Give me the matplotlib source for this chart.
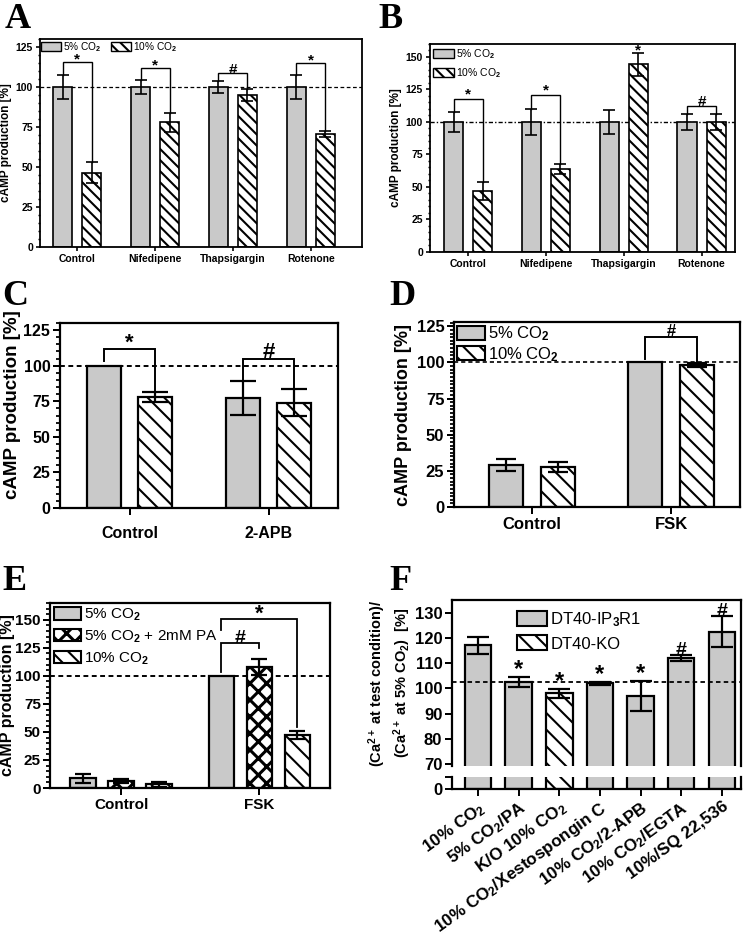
import matplotlib
matplotlib.use('Agg')
import matplotlib.pyplot as plt
from matplotlib.patches import Patch
from matplotlib.ticker import MultipleLocator, FixedLocator
import numpy as np

# ---------------- data ----------------
A_categories = ['Control', 'Nifedipene', 'Thapsigargin', 'Rotenone']
A_co2_5 = [100, 100, 100, 100]
A_co2_5_err = [7.3, 4.1, 4.0, 7.3]
A_co2_10 = [46.3, 77.9, 94.8, 70.4]
A_co2_10_err = [6.6, 5.8, 3.7, 1.8]
A_sig = ['*', '*', '#', '*']
A_bracket_y = [115.6, 111.9, 109.0, 115.2]

B_categories = ['Control', 'Nifedipene', 'Thapsigargin', 'Rotenone']
B_co2_5 = [100, 100, 100, 100]
B_co2_5_err = [7.7, 10.3, 9.2, 5.8]
B_co2_10 = [46.8, 64.1, 144.3, 100]
B_co2_10_err = [7.1, 3.8, 8.7, 6.5]
B_sig = ['*', '*', '*', '#']
B_bracket_y = [117.8, 120.9, None, 112.4]

C_categories = ['Control', '2-APB']
C_co2_5 = [100, 77.4]
C_co2_5_err = [0, 11.9]
C_co2_10 = [78.1, 73.9]
C_co2_10_err = [3.5, 9.4]
C_sig = ['*', '#']
C_bracket_y = [111.6, 105.0]

D_categories = ['Control', 'FSK']
D_co2_5 = [29.2, 100]
D_co2_5_err = [4.3, 0]
D_co2_10 = [27.4, 98.1]
D_co2_10_err = [3.4, 1.3]
D_sig = ['', '#']
D_bracket_y = [None, 117.9]

E_categories = ['Control', 'FSK']
E_co2_5 = [8.9, 100]
E_co2_5_err = [4.0, 0]
E_co2_5_pa = [6.3, 108.0]
E_co2_5_pa_err = [1.5, 7.3]
E_co2_10 = [3.3, 47.4]
E_co2_10_err = [2.2, 3.8]

F_labels = ['10% CO$_\\mathbf{2}$', '5% CO$_\\mathbf{2}$/PA', 'K/O 10% CO$_\\mathbf{2}$',
            '10% CO$_\\mathbf{2}$/Xestospongin C', '10% CO$_\\mathbf{2}$/2-APB',
            '10% CO$_\\mathbf{2}$/EGTA', '10%/SQ 22,536']
F_values = [117.0, 102.5, 98.0, 102.0, 97.0, 112.0, 122.5]
F_err = [3.3, 2.1, 1.9, 0.7, 6.1, 1.2, 6.1]
F_sig = ['', '*', '*', '*', '*', '#', '#']
F_knockout = [False, False, True, False, False, False, False]

# ---------------- style ----------------
plt.rcParams['font.family'] = ['Liberation Sans', 'DejaVu Sans']
plt.rcParams['font.weight'] = 'bold'
plt.rcParams['mathtext.fontset'] = 'custom'
plt.rcParams['mathtext.rm'] = 'Liberation Sans'
plt.rcParams['mathtext.bf'] = 'Liberation Sans:bold'
plt.rcParams['mathtext.it'] = 'Liberation Sans:italic'
plt.rcParams['hatch.linewidth'] = 1.5
GRAY = '#c9c9c9'

W, H = 745, 939
fig = plt.figure(figsize=(W / 100, H / 100), dpi=100)


def add_ax(l, t, r, b):
    return fig.add_axes([l / W, 1 - b / H, (r - l) / W, (b - t) / H])


def set_hlw(patches, lw):
    for p in patches:
        try:
            p.set_hatch_linewidth(lw)
        except AttributeError:
            pass


def style_ax(ax, lw, ticksize, major, minor, tl=4):
    for s in ax.spines.values():
        s.set_linewidth(lw)
    ax.yaxis.set_major_locator(MultipleLocator(major))
    if minor:
        ax.yaxis.set_minor_locator(MultipleLocator(minor))
    ax.tick_params(axis='both', which='major', direction='out', length=tl, width=lw * 0.9,
                   labelsize=ticksize, pad=2)
    ax.tick_params(axis='y', which='minor', direction='out', length=tl * 0.6, width=lw * 0.8)
    ax.tick_params(axis='x', which='minor', bottom=False)


def draw_bars(ax, x, vals, errs, kind, width, lw, capsize, elw, hatch='\\\\', hlw=None):
    if kind == 'gray':
        cont = ax.bar(x, vals, width, color=GRAY, edgecolor='black', linewidth=lw, zorder=2)
    else:
        cont = ax.bar(x, vals, width, color='white', edgecolor='black', hatch=hatch,
                      linewidth=lw, zorder=2)
        if hlw:
            set_hlw(cont.patches, hlw)
    xs = [xi for xi, e in zip(x, errs) if e > 0]
    vs = [v for v, e in zip(vals, errs) if e > 0]
    es = [e for e in errs if e > 0]
    if xs:
        ax.errorbar(xs, vs, yerr=es, fmt='none', ecolor='black', elinewidth=elw,
                    capsize=capsize, capthick=elw, zorder=3)


def bracket(ax, x1, x2, y, y1, y2, sym, fs, lw, dy=0):
    ax.plot([x1, x1, x2, x2], [y1, y, y, y2], color='black', lw=lw, zorder=4,
            solid_joinstyle='miter')
    ax.annotate(sym, xy=((x1 + x2) / 2, y), xytext=(0, dy), textcoords='offset points',
                ha='center', va='bottom', fontsize=fs, fontweight='bold')


def legend(ax, handles, labels, fs, **kw):
    return ax.legend(handles, labels, loc='upper left', frameon=False,
                     prop={'size': fs, 'weight': 'normal'}, **kw)


def panel_letter(x, y, s):
    fig.text(x / W, 1 - y / H, s, fontsize=26, fontweight='bold',
             family='Liberation Serif', va='baseline', ha='left')


# ---------------- Panel A ----------------
axA = add_ax(40, 39, 362, 247)
x = np.arange(len(A_categories))
off, w = 0.187, 0.245
draw_bars(axA, x - off, A_co2_5, A_co2_5_err, 'gray', w, 1.2, 4.5, 1.2)
draw_bars(axA, x + off, A_co2_10, A_co2_10_err, 'hatch', w, 1.2, 4.5, 1.2, hatch='\\\\\\')
axA.axhline(100, color='black', ls=(0, (3, 2)), lw=0.9, zorder=1)
axA.set_xlim(-0.48, 3.66)
axA.set_ylim(0, 130)
axA.set_xticks(x)
axA.set_xticklabels(A_categories, fontsize=9)
style_ax(axA, 1.3, 7.5, 25, 5, tl=3)
axA.set_ylabel('cAMP production [%]', fontsize=8.5, fontweight='bold', labelpad=3)
for i in range(len(A_categories)):
    bracket(axA, x[i] - off, x[i] + off, A_bracket_y[i],
            A_co2_5[i] + A_co2_5_err[i], A_co2_10[i] + A_co2_10_err[i], A_sig[i], 11, 1.0, -3.5)
legend(axA, [Patch(facecolor=GRAY, edgecolor='black', lw=1),
             Patch(facecolor='white', edgecolor='black', hatch='\\\\\\', lw=1)],
       ['5% CO$_2$', '10% CO$_2$'], 7.3, ncol=2, handlelength=2.0, handleheight=0.9,
       columnspacing=0.9, handletextpad=0.2, borderaxespad=0.05, borderpad=0.05)
panel_letter(5, 28, 'A')

# ---------------- Panel B ----------------
axB = add_ax(430, 44, 735, 252)
x = np.arange(len(B_categories))
draw_bars(axB, x - off, B_co2_5, B_co2_5_err, 'gray', w, 1.2, 4.5, 1.2)
draw_bars(axB, x + off, B_co2_10, B_co2_10_err, 'hatch', w, 1.2, 4.5, 1.2, hatch='\\\\\\')
axB.axhline(100, color='black', ls=(0, (3, 1.5, 1, 1.5)), lw=1.0, zorder=1)
axB.set_xlim(-0.49, 3.43)
axB.set_ylim(0, 160)
axB.set_xticks(x)
axB.set_xticklabels(B_categories, fontsize=9)
style_ax(axB, 1.3, 7.5, 25, 5, tl=3)
axB.set_ylabel('cAMP production [%]', fontsize=8.5, fontweight='bold', labelpad=3)
for i in range(len(B_categories)):
    if B_bracket_y[i] is None:
        axB.annotate(B_sig[i], xy=(x[i] + off, B_co2_10[i] + B_co2_10_err[i]),
                     xytext=(0, -3), textcoords='offset points', ha='center', va='bottom',
                     fontsize=11, fontweight='bold')
    else:
        bracket(axB, x[i] - off, x[i] + off, B_bracket_y[i],
                B_co2_5[i] + B_co2_5_err[i], B_co2_10[i] + B_co2_10_err[i], B_sig[i], 11, 1.0, -2)
legend(axB, [Patch(facecolor=GRAY, edgecolor='black', lw=1),
             Patch(facecolor='white', edgecolor='black', hatch='\\\\\\', lw=1)],
       ['5% CO$_2$', '10% CO$_2$'], 7.5, handlelength=2.0, handleheight=0.9,
       handletextpad=0.2, borderaxespad=0.2, borderpad=0.1, labelspacing=0.5)
panel_letter(378, 28, 'B')

# ---------------- Panel C ----------------
axC = add_ax(60, 323, 338, 508)
x = np.arange(len(C_categories))
offC, wC = 0.186, 0.245
draw_bars(axC, x - offC, C_co2_5, C_co2_5_err, 'gray', wC, 1.6, 9.5, 1.6)
draw_bars(axC, x + offC, C_co2_10, C_co2_10_err, 'hatch', wC, 1.6, 9.5, 1.6)
axC.axhline(100, color='black', ls=(0, (2.5, 1.8)), lw=1.4, zorder=1)
axC.set_xlim(-0.5, 1.5)
axC.set_ylim(0, 130)
axC.set_xticks(x)
axC.set_xticklabels(C_categories, fontsize=11)
style_ax(axC, 1.6, 11.5, 25, 5, tl=5)
axC.tick_params(axis='x', pad=8)
axC.set_ylabel('cAMP production [%]', fontsize=13.5, fontweight='bold', labelpad=2, y=0.56)
lefts_C = [103, C_co2_5[1] + C_co2_5_err[1]]
for i in range(len(C_categories)):
    bracket(axC, x[i] - offC, x[i] + offC, C_bracket_y[i], lefts_C[i],
            C_co2_10[i] + C_co2_10_err[i], C_sig[i], 16, 1.4, -3)
panel_letter(2, 305, 'C')

# ---------------- Panel D ----------------
axD = add_ax(454, 322, 740, 507)
x = np.arange(len(D_categories))
draw_bars(axD, x - offC, D_co2_5, D_co2_5_err, 'gray', wC, 1.6, 7, 1.6)
draw_bars(axD, x + offC, D_co2_10, D_co2_10_err, 'hatch', wC, 1.6, 7, 1.6)
axD.axhline(100, color='black', ls=(0, (2.5, 1.8)), lw=1.2, zorder=1)
axD.set_xlim(-0.562, 1.495)
axD.set_ylim(0, 128)
axD.set_xticks(x)
axD.set_xticklabels(D_categories, fontsize=11)
style_ax(axD, 1.6, 12, 25, 2.5, tl=5)
axD.set_ylabel('cAMP production [%]', fontsize=13, fontweight='bold', labelpad=3)
bracket(axD, 1 - offC, 1 + offC, D_bracket_y[1], 102.4,
        D_co2_10[1] + D_co2_10_err[1], D_sig[1], 12, 1.4, -2)
legend(axD, [Patch(facecolor=GRAY, edgecolor='black', lw=1.5),
             Patch(facecolor='white', edgecolor='black', hatch='\\\\', lw=1.5)],
       ['5% CO$_2$', '10% CO$_2$'], 12, handlelength=1.7, handleheight=0.9,
       handletextpad=0.2, borderaxespad=0.05, borderpad=0.1, labelspacing=0.1)
panel_letter(389, 305, 'D')

# ---------------- Panel E ----------------
axE = add_ax(50, 603, 330, 788)
x = np.arange(len(E_categories))
offE, wE = 0.275, 0.186
draw_bars(axE, x - offE, E_co2_5, E_co2_5_err, 'gray', wE, 1.6, 5.5, 1.6)
draw_bars(axE, x, E_co2_5_pa, E_co2_5_pa_err, 'cross', wE, 1.6, 5.5, 1.6, hatch='xx', hlw=2.2)
draw_bars(axE, x + offE, E_co2_10, E_co2_10_err, 'hatch', wE, 1.6, 5.5, 1.6)
axE.axhline(100, color='black', ls=(0, (2.5, 1.8)), lw=1.4, zorder=1)
axE.set_xlim(-0.514, 1.51)
axE.set_ylim(0, 165)
axE.set_xticks(x)
axE.set_xticklabels(E_categories, fontsize=11)
style_ax(axE, 1.6, 11, 25, 5, tl=5)
axE.tick_params(axis='y', pad=1.5)
axE.set_ylabel('cAMP production [%]', fontsize=11.5, fontweight='bold', labelpad=0.5)
bracket(axE, 1 - offE, 1, 129.1, 103.8, 124.7, '#', 14, 1.3, -3)
bracket(axE, 1 - offE, 1 + offE, 150.6, 141.0, 54.6, '*', 16, 1.3, -4)
hE = [Patch(facecolor=GRAY, edgecolor='black', lw=1.5),
      Patch(facecolor='white', edgecolor='black', hatch='xx', lw=1.5),
      Patch(facecolor='white', edgecolor='black', hatch='\\\\', lw=1.5)]
set_hlw(hE[1:2], 2.2)
legE = legend(axE, hE, ['5% CO$_2$', '5% CO$_2$ + 2mM PA', '10% CO$_2$'], 11,
              handlelength=1.8, handleheight=0.85, handletextpad=0.2, borderaxespad=0.15,
              borderpad=0.1, labelspacing=0.35)
set_hlw(legE.get_patches()[1:2], 2.2)
panel_letter(2, 590, 'E')

# ---------------- Panel F (broken axis) ----------------
axF = add_ax(452, 600, 741, 766)
axF2 = add_ax(452, 777, 741, 789)
x = np.arange(len(F_labels))
wF = 0.65
for ax in (axF, axF2):
    for i in range(len(F_labels)):
        if F_knockout[i]:
            ax.bar(x[i], F_values[i], wF, color='white', edgecolor='black', hatch='\\\\',
                   linewidth=1.6, zorder=2)
        else:
            ax.bar(x[i], F_values[i], wF, color=GRAY, edgecolor='black', linewidth=1.6, zorder=2)
    ax.set_xlim(-0.64, 6.47)
axF.errorbar(x, F_values, yerr=F_err, fmt='none', ecolor='black', elinewidth=1.6,
             capsize=8, capthick=1.6, zorder=3)
axF.axhline(102.5, color='black', ls=(0, (2.5, 1.8)), lw=1.3, zorder=4)
axF.set_ylim(69.3, 135)
axF2.set_ylim(0, 5)
style_ax(axF, 1.6, 12, 10, None, tl=5)
axF.spines['bottom'].set_visible(False)
axF.set_xticks([])
axF2.spines['top'].set_visible(False)
for s in axF2.spines.values():
    s.set_linewidth(1.6)
axF2.yaxis.set_major_locator(FixedLocator([0, 5]))
axF2.set_yticklabels(['0', ''])
axF2.tick_params(axis='y', direction='out', length=5, width=1.4, labelsize=12, pad=2)
axF2.set_xticks(x)
axF2.set_xticklabels(F_labels, rotation=36, ha='right', rotation_mode='anchor', fontsize=12.3)
axF2.tick_params(axis='x', direction='out', length=5, width=1.4, pad=2)
for i in range(len(F_labels)):
    if F_sig[i]:
        axF.annotate(F_sig[i], xy=(x[i], F_values[i] + F_err[i]), xytext=(0, -3),
                     textcoords='offset points', ha='center', va='bottom',
                     fontsize=17 if F_sig[i] == '*' else 14, fontweight='bold')
axF.set_ylabel('(Ca$^{\\mathbf{2+}}$ at test condition)/\n(Ca$^{\\mathbf{2+}}$ at 5% CO$_\\mathbf{2}$)  [%]',
               fontsize=10.5, fontweight='bold', labelpad=1, linespacing=1.25)
axF.legend([Patch(facecolor=GRAY, edgecolor='black', lw=1.5),
            Patch(facecolor='white', edgecolor='black', hatch='\\\\', lw=1.5)],
           ['DT40-IP$_3$R1', 'DT40-KO'], loc='upper left', bbox_to_anchor=(0.19, 1.0),
           frameon=False, prop={'size': 12, 'weight': 'normal'}, handlelength=1.8,
           handleheight=1.0, handletextpad=0.2, borderpad=0.1, labelspacing=0.4)
panel_letter(389, 590, 'F')

fig.savefig('out.png', dpi=100)
